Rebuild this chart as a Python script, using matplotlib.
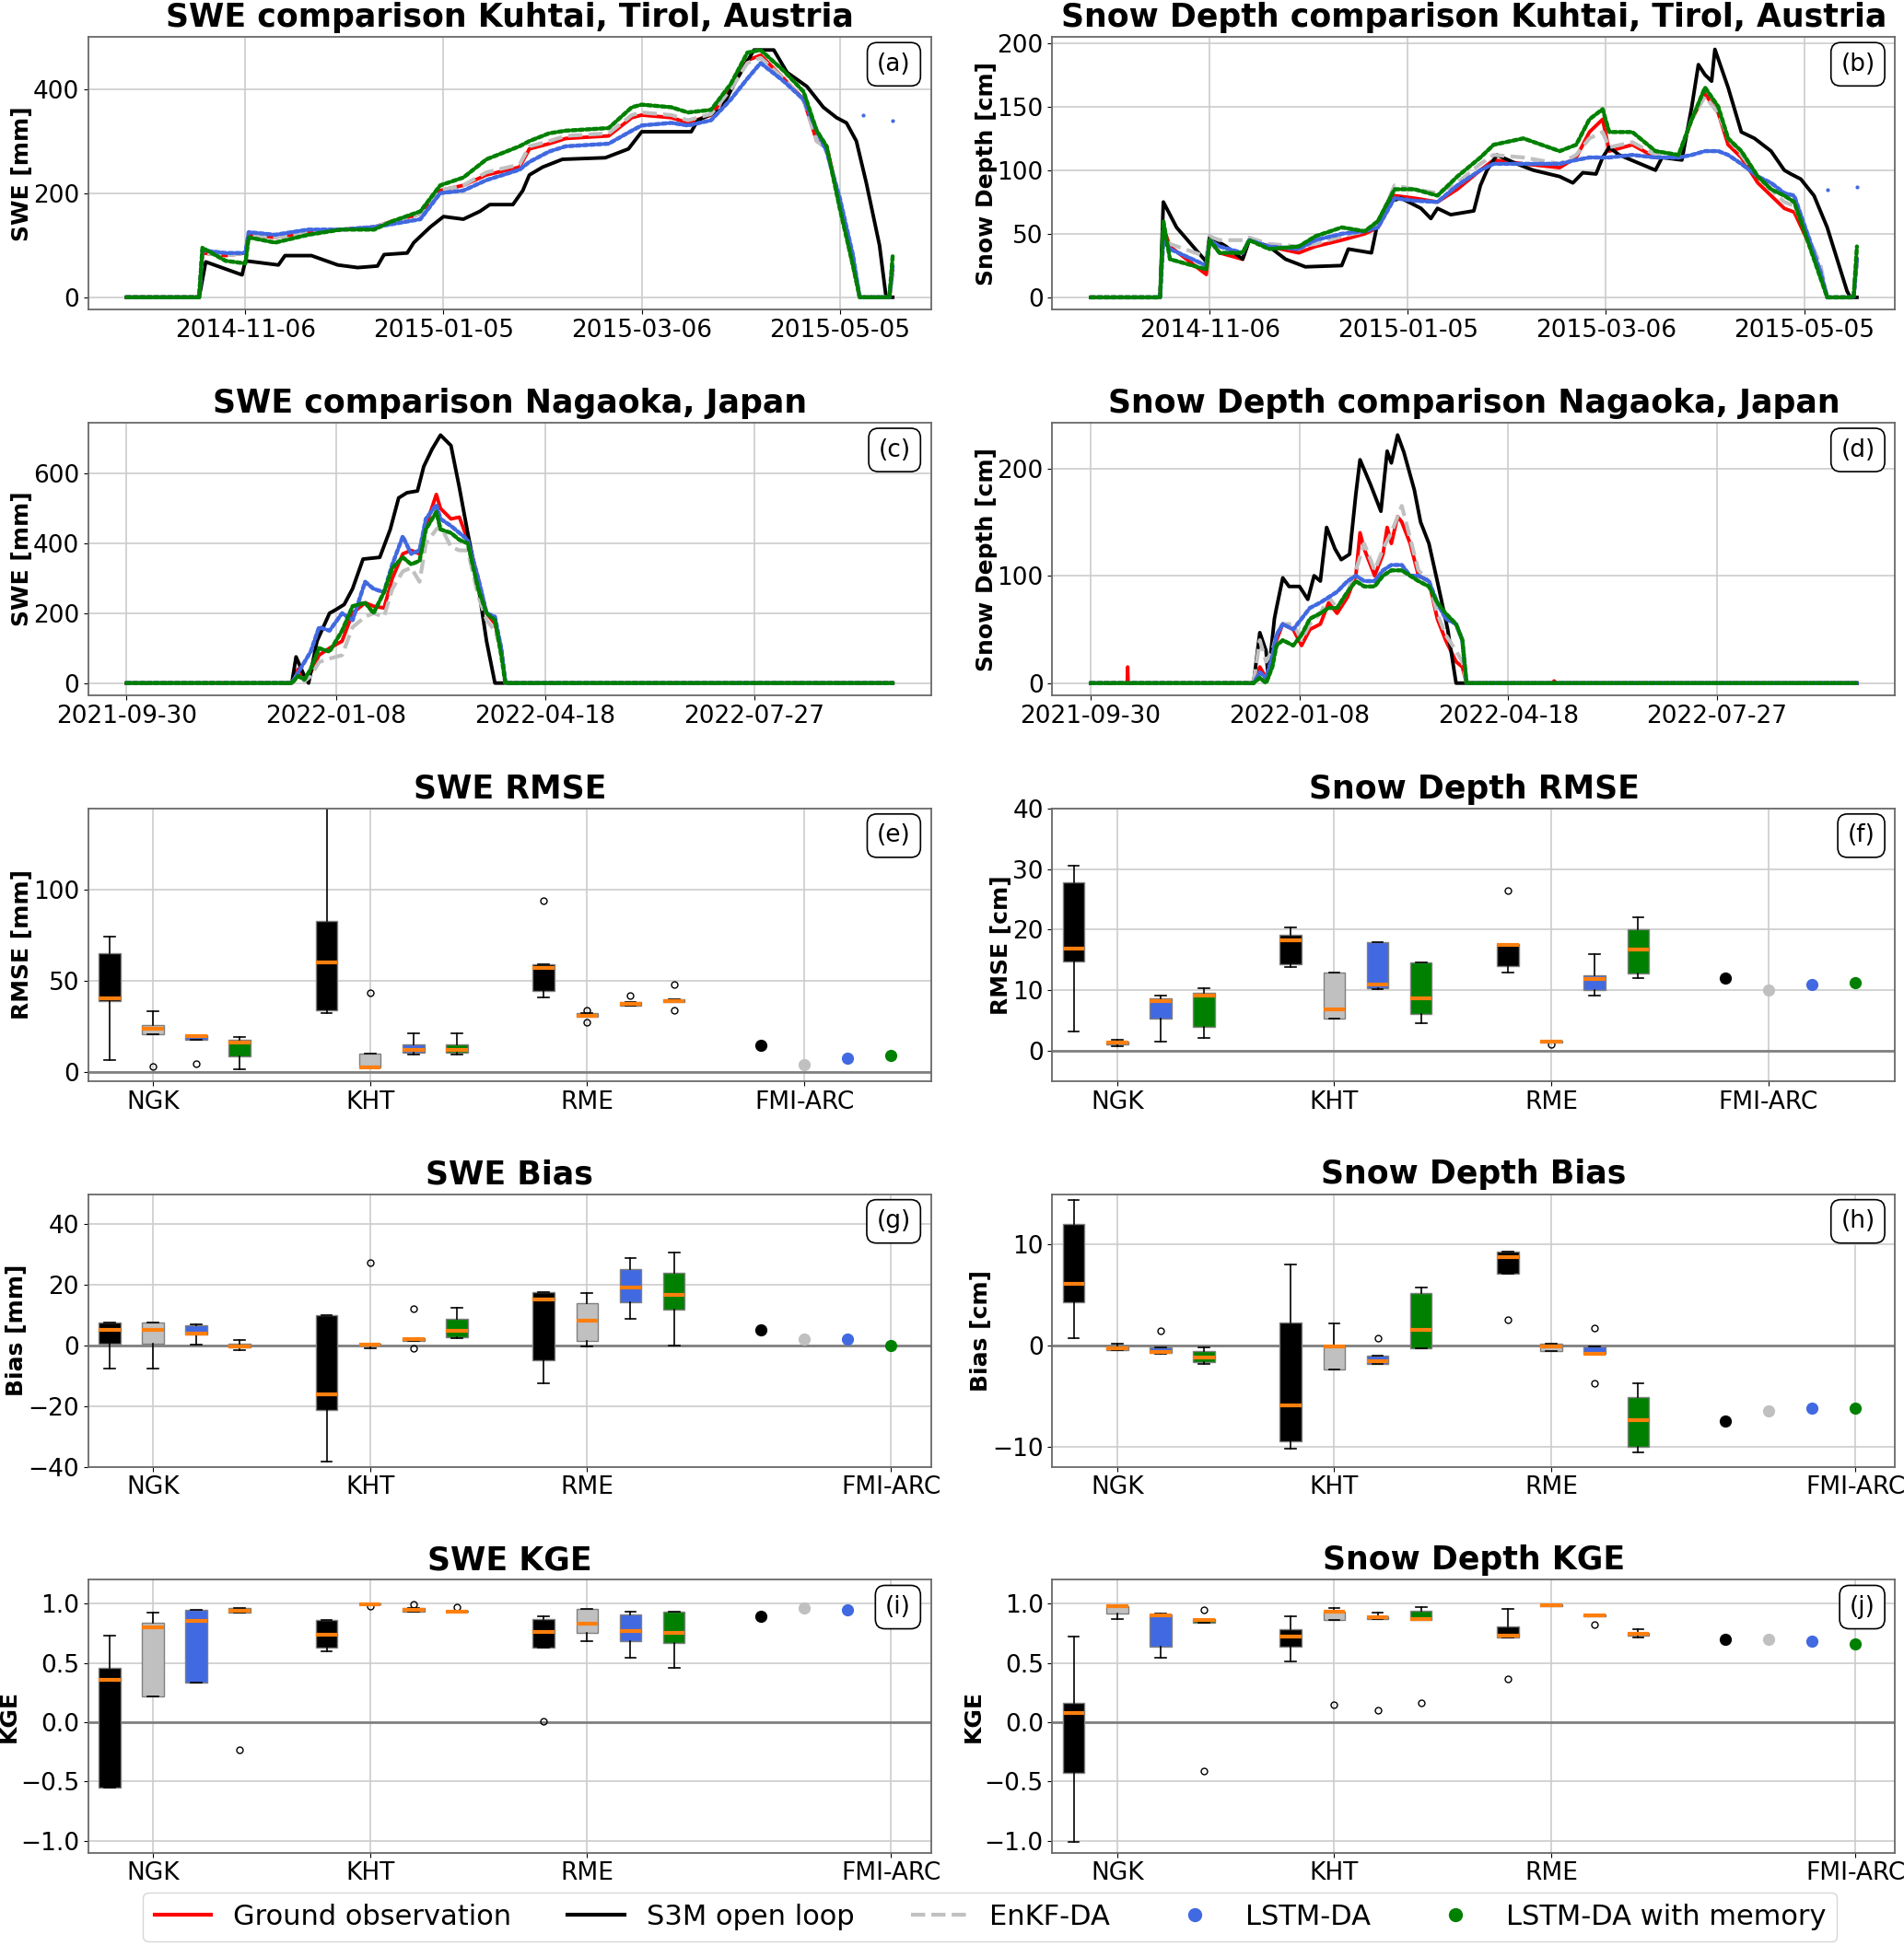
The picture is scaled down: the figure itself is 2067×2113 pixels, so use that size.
import matplotlib
matplotlib.use("Agg")
import matplotlib.pyplot as plt
import matplotlib.dates as mdates
import matplotlib.ticker as ticker
from matplotlib.lines import Line2D
import pandas as pd

# ---------------------------------------------------------------------------
# Time series (days since season start)
# ---------------------------------------------------------------------------
kuhtaiStart = "2014-10-01"
nagaokaStart = "2021-09-30"
kuhtaiTicks = ["2014-11-06", "2015-01-05", "2015-03-06", "2015-05-05"]
nagaokaTicks = ["2021-09-30", "2022-01-08", "2022-04-18", "2022-07-27"]

# (a) SWE Kuhtai
khtSweDays = [0, 22, 23, 30, 36, 37, 45, 55, 65, 75, 80, 89, 95, 102, 109, 119, 122, 128, 133, 146,
              153, 156, 165, 170, 177, 183, 188, 192, 199, 205, 209, 212, 216, 220, 222, 231, 232]
khtSweObs = [0, 0, 85, 80, 85, 120, 115, 125, 130, 135, 145, 160, 205, 215, 235, 250, 285, 295, 305, 310,
             345, 350, 345, 335, 350, 400, 455, 465, 420, 380, 300, 290, 180, 60, 0, 0, 50]
khtSweEnkf = [0, 0, 85, 80, 85, 120, 115, 125, 130, 135, 145, 160, 205, 215, 240, 255, 290, 300, 310, 315,
              350, 355, 350, 340, 352, 400, 450, 460, 420, 378, 300, 285, 175, 60, 0, 0, 50]
khtSweLstm = [0, 0, 90, 85, 85, 125, 120, 130, 130, 135, 140, 150, 200, 205, 225, 245, 260, 280, 290, 295,
              320, 330, 335, 330, 340, 380, 420, 450, 415, 380, 320, 280, 190, 80, 0, 0, 60]
khtSweMem = [0, 0, 95, 70, 65, 115, 105, 120, 130, 130, 145, 165, 215, 230, 265, 290, 300, 315, 320, 325,
             365, 370, 365, 355, 360, 410, 470, 475, 435, 395, 320, 290, 170, 60, 0, 0, 80]
khtSweS3mDays = [0, 22, 24, 35, 36, 46, 48, 56, 64, 70, 76, 78, 85, 87, 92, 96, 102, 107, 110, 117,
                 120, 122, 126, 132, 145, 152, 156, 171, 173, 180, 184, 190, 196, 200, 206, 211, 215, 218,
                 221, 224, 228, 230, 232]
khtSweS3m = [0, 0, 68, 43, 70, 62, 80, 80, 62, 57, 60, 82, 85, 105, 135, 155, 150, 165, 178, 178,
             205, 235, 250, 265, 268, 285, 318, 318, 340, 360, 410, 475, 475, 432, 405, 365, 345, 335,
             300, 220, 100, 0, 0]
khtSweLstmOutDays = [223, 232]
khtSweLstmOut = [350, 340]

# (b) Snow depth Kuhtai
khtHsDays = [0, 21, 22, 24, 35, 36, 39, 46, 48, 54, 63, 68, 76, 83, 87, 92, 98, 105, 111, 118,
             122, 131, 142, 147, 151, 155, 157, 164, 171, 178, 182, 186, 190, 193, 197, 202, 206, 210,
             213, 217, 221, 223, 231, 232]
khtHsObs = [0, 0, 55, 40, 18, 45, 35, 30, 45, 40, 35, 40, 45, 50, 55, 80, 78, 75, 85, 100,
            108, 105, 102, 110, 130, 140, 115, 120, 110, 110, 140, 160, 145, 120, 110, 90, 80, 70,
            67, 45, 20, 0, 0, 30]
khtHsEnkf = [0, 0, 50, 42, 32, 48, 45, 45, 47, 42, 40, 42, 48, 52, 58, 88, 85, 82, 90, 105,
             112, 110, 105, 112, 125, 130, 118, 122, 112, 112, 140, 158, 145, 125, 112, 95, 85, 75,
             72, 50, 25, 0, 0, 30]
khtHsLstm = [0, 0, 45, 38, 25, 45, 40, 35, 45, 40, 38, 45, 50, 52, 55, 78, 76, 75, 88, 100,
             105, 105, 105, 108, 110, 110, 110, 112, 110, 110, 112, 115, 115, 112, 105, 95, 90, 82,
             80, 50, 20, 0, 0, 30]
khtHsMem = [0, 0, 60, 30, 22, 45, 35, 35, 45, 38, 40, 48, 55, 52, 60, 85, 85, 80, 95, 110,
            120, 125, 115, 120, 140, 148, 130, 130, 115, 112, 140, 165, 150, 125, 115, 95, 85, 80,
            75, 45, 15, 0, 0, 40]
khtHsS3mDays = [0, 21, 22, 26, 31, 35, 36, 41, 46, 48, 54, 59, 65, 76, 78, 85, 87, 90, 94, 100,
                103, 105, 109, 116, 118, 120, 123, 129, 134, 142, 146, 149, 153, 155, 157, 160, 171, 173,
                179, 182, 184, 186, 188, 189, 193, 197, 201, 206, 210, 212, 215, 219, 223, 226, 229, 230, 232]
khtHsS3m = [0, 0, 75, 55, 40, 28, 48, 40, 30, 45, 40, 30, 24, 25, 38, 35, 60, 75, 78, 70,
            62, 70, 65, 68, 88, 100, 112, 105, 100, 95, 90, 98, 97, 110, 118, 112, 100, 110,
            108, 150, 183, 175, 170, 195, 165, 130, 125, 115, 100, 97, 93, 80, 55, 30, 5, 0, 0]
khtHsLstmOutDays = [223, 232]
khtHsLstmOut = [85, 87]

# (c) SWE Nagaoka
ngkSweDays = [0, 79, 82, 85, 88, 92, 97, 103, 108, 114, 118, 123, 127, 132, 136, 140, 143, 148, 150, 155,
              159, 163, 168, 172, 176, 179, 181, 366]
ngkSweObs = [0, 0, 40, 10, 30, 80, 100, 120, 200, 230, 220, 215, 300, 370, 380, 370, 450, 540, 500, 470,
             475, 410, 300, 200, 170, 100, 0, 0]
ngkSweEnkf = [0, 0, 30, 5, 20, 60, 70, 80, 160, 190, 200, 190, 270, 320, 330, 290, 400, 440, 450, 390,
              380, 380, 250, 180, 150, 100, 0, 0]
ngkSweLstm = [0, 0, 30, 60, 90, 160, 150, 200, 180, 290, 270, 260, 340, 420, 370, 380, 470, 510, 470, 450,
              430, 410, 300, 200, 190, 100, 0, 0]
ngkSweMem = [0, 0, 20, 10, 40, 100, 90, 150, 220, 230, 200, 260, 330, 360, 340, 350, 440, 490, 440, 430,
             410, 400, 270, 200, 180, 80, 0, 0]
ngkSweS3mDays = [0, 79, 81, 85, 87, 91, 97, 100, 104, 108, 113, 121, 126, 130, 134, 139, 142, 146, 150, 155,
                 159, 163, 168, 172, 176, 366]
ngkSweS3m = [0, 0, 75, 20, 0, 120, 200, 210, 225, 270, 355, 360, 440, 530, 545, 550, 620, 670, 710, 680,
             560, 430, 280, 120, 0, 0]

# (d) Snow depth Nagaoka
ngkHsDays = [0, 78, 81, 84, 87, 89, 92, 97, 101, 105, 110, 114, 118, 123, 127, 131, 136, 140, 144, 149,
             153, 157, 162, 166, 170, 175, 178, 180, 367]
ngkHsEnkf = [0, 0, 40, 20, 30, 45, 55, 55, 40, 55, 65, 80, 70, 85, 105, 130, 105, 125, 140, 165,
             135, 105, 95, 65, 45, 30, 20, 0, 0]
ngkHsLstm = [0, 0, 10, 5, 25, 45, 55, 50, 60, 70, 75, 80, 85, 95, 100, 95, 95, 105, 110, 110,
             100, 100, 95, 75, 60, 55, 40, 0, 0]
ngkHsMem = [0, 0, 5, 0, 15, 35, 40, 35, 45, 60, 65, 70, 70, 85, 95, 90, 90, 100, 105, 105,
            100, 95, 90, 75, 65, 55, 40, 0, 0]
ngkHsObsDays = [0, 17.5, 17.7, 17.9, 78, 81, 84, 87, 89, 92, 97, 101, 105, 110, 114, 118, 123, 127, 129, 131,
                136, 140, 142, 144, 147, 149, 153, 157, 162, 166, 170, 175, 178, 180, 221, 222, 223, 367]
ngkHsObs = [0, 0, 15, 0, 0, 15, 5, 20, 40, 55, 50, 35, 50, 55, 75, 65, 80, 100, 140, 125,
            100, 120, 145, 130, 155, 150, 130, 100, 95, 60, 40, 20, 15, 0, 0, 2, 0, 0]
ngkHsS3mDays = [0, 78, 81, 84, 85, 88, 89, 92, 95, 100, 104, 107, 110, 113, 117, 120, 124, 127, 129, 134,
                139, 142, 144, 147, 150, 155, 158, 162, 166, 171, 175, 367]
ngkHsS3m = [0, 0, 47, 30, 5, 60, 70, 98, 90, 90, 78, 100, 95, 145, 125, 115, 120, 176, 208, 185,
            160, 216, 205, 231, 215, 180, 150, 130, 95, 50, 0, 0]

# ---------------------------------------------------------------------------
# Box plot statistics: rows are NGK, KHT, RME x (S3M, EnKF-DA, LSTM-DA, LSTM-DA mem)
# each row = [whisker low, q1, median, q3, whisker high]
# ---------------------------------------------------------------------------
sites = ["NGK", "KHT", "RME", "FMI-ARC"]

sweRmseStats = [[6.1, 38.6, 40.3, 65.4, 74.2], [20.5, 20.5, 23.4, 25.6, 33.0],
                [17.6, 17.6, 19.7, 20.2, 20.2], [1.4, 8.5, 16.1, 17.6, 18.8],
                [32.0, 33.7, 60.0, 82.9, 190.0], [2.2, 2.2, 2.2, 9.7, 9.7],
                [9.5, 10.3, 11.7, 14.9, 21.0], [9.5, 10.3, 11.7, 14.9, 21.0],
                [40.8, 44.6, 57.3, 59.3, 59.3], [30.3, 30.3, 30.8, 32.0, 32.0],
                [36.1, 36.3, 37.1, 38.1, 38.1], [38.1, 38.1, 38.6, 39.7, 39.7]]
sweRmseFliers = [[], [2.7], [4.4], [], [], [43.2], [], [], [94.0], [34.0, 27.0], [41.7], [48.0, 33.7]]
sweRmseFmi = [14.4, 3.9, 7.3, 9.0]

hsRmseStats = [[3.2, 14.8, 16.8, 27.8, 30.6], [0.7, 1.1, 1.3, 1.5, 1.8],
               [1.6, 5.4, 8.2, 8.7, 9.1], [2.1, 4.0, 9.1, 9.6, 10.4],
               [13.8, 14.3, 18.2, 19.1, 20.4], [5.3, 5.4, 6.8, 12.9, 12.9],
               [10.2, 10.3, 10.9, 18.0, 18.0], [4.5, 6.1, 8.7, 14.6, 14.6],
               [12.9, 14.0, 17.5, 17.6, 17.6], [1.4, 1.4, 1.5, 1.7, 1.7],
               [9.1, 10.0, 11.9, 12.5, 15.9], [12.0, 12.7, 16.7, 20.0, 22.0]]
hsRmseFliers = [[], [], [], [], [], [], [], [], [26.4], [1.1], [], []]
hsRmseFmi = [12.0, 10.0, 10.9, 11.3]

sweBiasStats = [[-7.6, 0.5, 5.1, 7.7, 7.7], [-7.6, 0.5, 5.1, 7.7, 7.7],
                [0.3, 3.6, 3.9, 6.6, 7.1], [-1.6, -0.7, -0.3, 0.7, 2.0],
                [-38.1, -21.1, -16.1, 10.2, 10.2], [-0.9, 0.1, 0.4, 0.7, 0.7],
                [1.5, 1.5, 2.1, 2.5, 2.5], [2.5, 2.9, 4.9, 8.8, 12.5],
                [-12.4, -4.8, 15.1, 17.6, 17.6], [-0.4, 1.7, 8.1, 14.1, 17.4],
                [8.9, 14.4, 19.3, 25.2, 29.0], [0.0, 12.0, 16.7, 23.9, 30.6]]
sweBiasFliers = [[], [], [], [], [], [27.4], [12.1, -1.0], [], [], [], [], []]
sweBiasFmi = [5.2, 2.3, 2.3, 0.0]

hsBiasStats = [[0.7, 4.3, 6.1, 12.0, 14.4], [-0.4, -0.4, -0.3, 0.0, 0.2],
               [-0.8, -0.7, -0.6, -0.15, -0.15], [-1.8, -1.6, -1.2, -0.5, -0.2],
               [-10.2, -9.5, -5.9, 2.3, 8.0], [-2.4, -2.4, -0.1, -0.1, 2.2],
               [-1.8, -1.8, -1.5, -1.0, -1.0], [-0.3, -0.3, 1.6, 5.2, 5.8],
               [7.1, 7.1, 8.8, 9.3, 9.3], [-0.5, -0.5, -0.05, 0.2, 0.2],
               [-0.8, -0.8, -0.8, -0.1, -0.1], [-10.6, -10.0, -7.4, -5.1, -3.7]]
hsBiasFliers = [[], [], [1.5], [], [], [], [0.7], [], [2.6], [], [1.7, -3.7], []]
hsBiasFmi = [-7.5, -6.5, -6.2, -6.2]

sweKgeStats = [[-0.55, -0.55, 0.36, 0.46, 0.73], [0.22, 0.22, 0.80, 0.84, 0.92],
               [0.33, 0.33, 0.85, 0.95, 0.95], [0.92, 0.92, 0.94, 0.96, 0.96],
               [0.60, 0.63, 0.74, 0.86, 0.86], [0.99, 0.99, 0.99, 1.0, 1.0],
               [0.935, 0.935, 0.95, 0.96, 0.96], [0.93, 0.93, 0.935, 0.94, 0.94],
               [0.63, 0.63, 0.76, 0.87, 0.89], [0.68, 0.75, 0.83, 0.955, 0.955],
               [0.54, 0.68, 0.77, 0.91, 0.93], [0.46, 0.67, 0.75, 0.93, 0.93]]
sweKgeFliers = [[], [], [], [-0.23], [], [0.975], [0.996], [0.97], [0.01], [], [], []]
sweKgeFmi = [0.895, 0.96, 0.95, 0.95]

hsKgeStats = [[-1.01, -0.43, 0.08, 0.16, 0.72], [0.87, 0.915, 0.975, 0.98, 0.985],
              [0.54, 0.64, 0.90, 0.905, 0.917], [0.84, 0.84, 0.86, 0.87, 0.87],
              [0.51, 0.64, 0.72, 0.78, 0.89], [0.86, 0.86, 0.93, 0.935, 0.96],
              [0.87, 0.87, 0.885, 0.895, 0.925], [0.86, 0.86, 0.87, 0.94, 0.97],
              [0.715, 0.715, 0.73, 0.81, 0.955], [0.975, 0.975, 0.985, 0.995, 0.995],
              [0.89, 0.89, 0.90, 0.905, 0.905], [0.715, 0.73, 0.745, 0.755, 0.78]]
hsKgeFliers = [[], [], [], [0.945, -0.415], [], [0.15], [0.1], [0.165], [0.365], [], [0.825], []]
hsKgeFmi = [0.695, 0.70, 0.685, 0.66]

methodColors = ["black", "silver", "royalblue", "green"]
legendLabels = ["Ground observation", "S3M open loop", "EnKF-DA", "LSTM-DA", "LSTM-DA with memory"]

titleSize = 25
labelSize = 18
tickSize = 19
letterSize = 19


def ToDates(start, days):
    return pd.Timestamp(start) + pd.to_timedelta(days, unit="D")


def StyleAxes(ax, title, ylabel, letter):
    ax.set_title(title, fontsize=titleSize, fontweight="bold", pad=8)
    ax.set_ylabel(ylabel, fontsize=labelSize, fontweight="bold", labelpad=0)
    ax.tick_params(axis="both", labelsize=tickSize)
    ax.grid(True, color="#cccccc", linewidth=1.2)
    ax.set_axisbelow(True)
    for spine in ax.spines.values():
        spine.set_color("dimgray")
        spine.set_linewidth(1.3)
    ax.text(0.976, 0.90, letter, transform=ax.transAxes, ha="right", va="center",
            fontsize=letterSize, zorder=20,
            bbox=dict(boxstyle="round,pad=0.4", fc="white", ec="black", lw=1.2))


def DrawSeries(ax, start, obs, enkf, lstm, mem, s3m, ylim, yStep, tickDates,
               title, ylabel, letter, outliers=None):
    ax.plot(ToDates(start, obs[0]), obs[1], color="red", lw=2.8, zorder=2)
    ax.plot(ToDates(start, s3m[0]), s3m[1], color="black", lw=2.8, zorder=2)
    ax.plot(ToDates(start, enkf[0]), enkf[1], color="silver", lw=3, ls="--", zorder=3)
    ax.plot(ToDates(start, lstm[0]), lstm[1], color="royalblue", lw=3.2, dashes=(1, 0.7),
            dash_capstyle="round", zorder=4)
    ax.plot(ToDates(start, mem[0]), mem[1], color="green", lw=3.2, dashes=(1, 0.7),
            dash_capstyle="round", zorder=5)
    if outliers is not None:
        ax.plot(ToDates(start, outliers[0]), outliers[1], ls="none", marker=".",
                color="royalblue", ms=4, zorder=4)
    ax.set_ylim(*ylim)
    ax.yaxis.set_major_locator(ticker.MultipleLocator(yStep))
    ax.set_xticks([pd.Timestamp(t) for t in tickDates])
    ax.xaxis.set_major_formatter(mdates.DateFormatter("%Y-%m-%d"))
    StyleAxes(ax, title, ylabel, letter)


def DrawBoxes(ax, stats, fliers, fmi, fmiTick, ylim, yStep, title, ylabel, letter):
    ax.axhline(0, color="gray", lw=2, zorder=1)
    for i, row in enumerate(stats):
        site, method = divmod(i, 4)
        lo, q1, med, q3, hi = row
        ax.bxp([dict(whislo=lo, q1=q1, med=med, q3=q3, whishi=hi, fliers=fliers[i])],
               positions=[site * 5 + method], widths=0.5, capwidths=0.25,
               patch_artist=True, manage_ticks=False,
               boxprops=dict(facecolor=methodColors[method], edgecolor="gray", lw=1),
               medianprops=dict(color="#ff7f0e", lw=3),
               whiskerprops=dict(color="black", lw=1.2),
               capprops=dict(color="black", lw=1.2),
               flierprops=dict(marker="o", mfc="none", mec="black", ms=5, mew=1))
    for m, v in enumerate(fmi):
        ax.plot(15 + m, v, ls="none", marker="o", color=methodColors[m], ms=8.5, zorder=3)
    ax.set_xticks([1, 6, 11, fmiTick])
    ax.set_xticklabels(sites)
    ax.set_xlim(-0.49, 18.92)
    ax.set_ylim(*ylim)
    ax.yaxis.set_major_locator(ticker.MultipleLocator(yStep))
    StyleAxes(ax, title, ylabel, letter)


fig = plt.figure(figsize=(20.67, 21.13), dpi=100)
gs = fig.add_gridspec(5, 2, left=0.0463, right=0.9954, top=0.981, bottom=0.048,
                      wspace=0.144, hspace=0.414)
axes = [[fig.add_subplot(gs[r, c]) for c in range(2)] for r in range(5)]

DrawSeries(axes[0][0], kuhtaiStart, (khtSweDays, khtSweObs), (khtSweDays, khtSweEnkf),
           (khtSweDays, khtSweLstm), (khtSweDays, khtSweMem), (khtSweS3mDays, khtSweS3m),
           (-24, 500), 200, kuhtaiTicks, "SWE comparison Kuhtai, Tirol, Austria", "SWE [mm]", "(a)",
           outliers=(khtSweLstmOutDays, khtSweLstmOut))
DrawSeries(axes[0][1], kuhtaiStart, (khtHsDays, khtHsObs), (khtHsDays, khtHsEnkf),
           (khtHsDays, khtHsLstm), (khtHsDays, khtHsMem), (khtHsS3mDays, khtHsS3m),
           (-9.75, 204.75), 50, kuhtaiTicks, "Snow Depth comparison Kuhtai, Tirol, Austria",
           "Snow Depth [cm]", "(b)", outliers=(khtHsLstmOutDays, khtHsLstmOut))
DrawSeries(axes[1][0], nagaokaStart, (ngkSweDays, ngkSweObs), (ngkSweDays, ngkSweEnkf),
           (ngkSweDays, ngkSweLstm), (ngkSweDays, ngkSweMem), (ngkSweS3mDays, ngkSweS3m),
           (-35.5, 745.5), 200, nagaokaTicks, "SWE comparison Nagaoka, Japan", "SWE [mm]", "(c)")
DrawSeries(axes[1][1], nagaokaStart, (ngkHsObsDays, ngkHsObs), (ngkHsDays, ngkHsEnkf),
           (ngkHsDays, ngkHsLstm), (ngkHsDays, ngkHsMem), (ngkHsS3mDays, ngkHsS3m),
           (-11.5, 242.5), 100, nagaokaTicks, "Snow Depth comparison Nagaoka, Japan",
           "Snow Depth [cm]", "(d)")

DrawBoxes(axes[2][0], sweRmseStats, sweRmseFliers, sweRmseFmi, 16, (-5.3, 145), 50,
          "SWE RMSE", "RMSE [mm]", "(e)")
DrawBoxes(axes[2][1], hsRmseStats, hsRmseFliers, hsRmseFmi, 16, (-5, 40), 10,
          "Snow Depth RMSE", "RMSE [cm]", "(f)")
DrawBoxes(axes[3][0], sweBiasStats, sweBiasFliers, sweBiasFmi, 18, (-40, 50), 20,
          "SWE Bias", "Bias [mm]", "(g)")
DrawBoxes(axes[3][1], hsBiasStats, hsBiasFliers, hsBiasFmi, 18, (-12, 15), 10,
          "Snow Depth Bias", "Bias [cm]", "(h)")
DrawBoxes(axes[4][0], sweKgeStats, sweKgeFliers, sweKgeFmi, 18, (-1.1, 1.2), 0.5,
          "SWE KGE", "KGE", "(i)")
DrawBoxes(axes[4][1], hsKgeStats, hsKgeFliers, hsKgeFmi, 18, (-1.1, 1.2), 0.5,
          "Snow Depth KGE", "KGE", "(j)")

handles = [Line2D([], [], color="red", lw=3),
           Line2D([], [], color="black", lw=3),
           Line2D([], [], color="silver", lw=3, ls="--"),
           Line2D([], [], color="royalblue", ls="none", marker="o", ms=10),
           Line2D([], [], color="green", ls="none", marker="o", ms=10)]
fig.legend(handles, legendLabels, loc="lower center", bbox_to_anchor=(0.52, -0.005),
           ncol=5, fontsize=22, frameon=True)

fig.savefig("out.png", dpi=100)
